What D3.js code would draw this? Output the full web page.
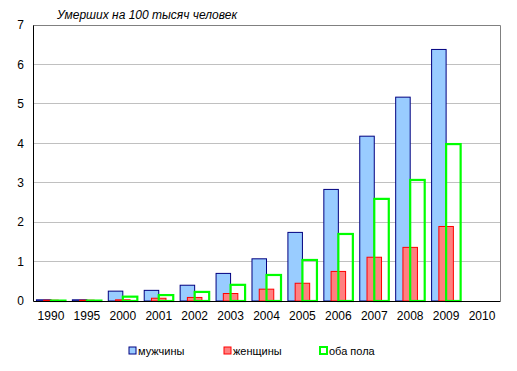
<!DOCTYPE html>
<html>
<head>
<meta charset="utf-8">
<script src="https://cdn.jsdelivr.net/npm/d3@7"></script>
<style>
body { margin: 0; background: #fff; }
svg text { font-family: "Liberation Sans", Arial, sans-serif; fill: #000; }
</style>
</head>
<body>
<svg id="chart" width="517" height="371"></svg>
<script>
var years = ["1990", "1995", "2000", "2001", "2002", "2003", "2004", "2005", "2006", "2007", "2008", "2009", "2010"];
var men = [0.03, 0.03, 0.25, 0.27, 0.40, 0.70, 1.07, 1.74, 2.83, 4.18, 5.17, 6.38, null];
var women = [0.02, 0.02, 0.03, 0.07, 0.09, 0.19, 0.30, 0.45, 0.75, 1.11, 1.36, 1.89, null];
var both = [0.01, 0.01, 0.11, 0.15, 0.23, 0.41, 0.66, 1.04, 1.70, 2.59, 3.07, 3.98, null];
var yTicks = [0, 1, 2, 3, 4, 5, 6, 7];
var seriesNames = ["мужчины", "женщины", "оба пола"];

var svg = d3.select("#chart"),
    margins = {"left": 33, "right": 17, "top": 25, "bottom": 70},
    width = 517, height = 371;

var x = d3.scaleBand().domain(years).range([margins.left, width - margins.right]).padding(0),
    y = d3.scaleLinear().domain([0, 7]).range([height - margins.bottom, margins.top]);

var w = x.bandwidth() * 0.404;

// grid
svg.append("g").selectAll("line").data(yTicks.filter(d => d > 0 && d < 7))
    .enter().append("line")
    .attr("x1", margins.left).attr("x2", width - margins.right)
    .attr("y1", d => y(d)).attr("y2", d => y(d))
    .attr("stroke", "#c0c0c0").attr("stroke-width", 1)
    .attr("shape-rendering", "crispEdges");

// frame top / right
svg.append("path")
    .attr("d", "M" + margins.left + "," + (y(7) + 0.5) + "H" + (width - margins.right + 0.5) + "V" + y(0))
    .attr("fill", "none").attr("stroke", "#808080").attr("stroke-width", 1);

var series = [
    {values: men, fill: "#99ccff", stroke: "#000080", sw: 1, off: -1},
    {values: women, fill: "#ff8080", stroke: "#ff0000", sw: 1, off: -0.5},
    {values: both, fill: "none", stroke: "#00ff00", sw: 2.2, off: 0}
];

series.forEach(s => {
    svg.append("g").selectAll("rect")
        .data(years.map((yr, i) => ({year: yr, v: s.values[i]})).filter(d => d.v != null))
        .enter().append("rect")
        .attr("x", d => x(d.year) + x.bandwidth() / 2 + s.off * w)
        .attr("y", d => y(d.v))
        .attr("width", w)
        .attr("height", d => y(0) - y(d.v))
        .attr("fill", s.fill)
        .attr("stroke", s.stroke)
        .attr("stroke-width", s.sw);
});

// axes
var yAxis = d3.axisLeft(y).tickValues(yTicks).tickFormat(d3.format("d")).tickSize(0).tickPadding(9);
svg.append("g").attr("transform", "translate(" + margins.left + ",0)").call(yAxis)
    .call(g => g.select(".domain").attr("stroke", "#000"))
    .selectAll("text").style("font-size", "12px");

var xAxis = d3.axisBottom(x).tickSize(0).tickPadding(10);
svg.append("g").attr("transform", "translate(0," + y(0) + ")").call(xAxis)
    .call(g => g.select(".domain").attr("stroke", "#000"))
    .selectAll("text").style("font-size", "12px");

// title
svg.append("text").attr("x", 147).attr("y", 19)
    .attr("text-anchor", "middle").style("font-style", "italic").style("font-size", "12px")
    .text("Умерших на 100 тысяч человек");

// legend
var legendX = [129, 224, 320];
var legend = svg.append("g").selectAll("g").data(series).enter().append("g")
    .attr("transform", (d, i) => "translate(" + legendX[i] + ",347)");
legend.append("rect").attr("width", 7).attr("height", 7)
    .attr("fill", d => d.fill === "none" ? "#fff" : d.fill)
    .attr("stroke", d => d.stroke).attr("stroke-width", (d, i) => i == 2 ? 2 : 1);
legend.append("text").attr("x", 9).attr("y", 8).style("font-size", "11px")
    .text((d, i) => seriesNames[i]);
</script>
</body>
</html>
